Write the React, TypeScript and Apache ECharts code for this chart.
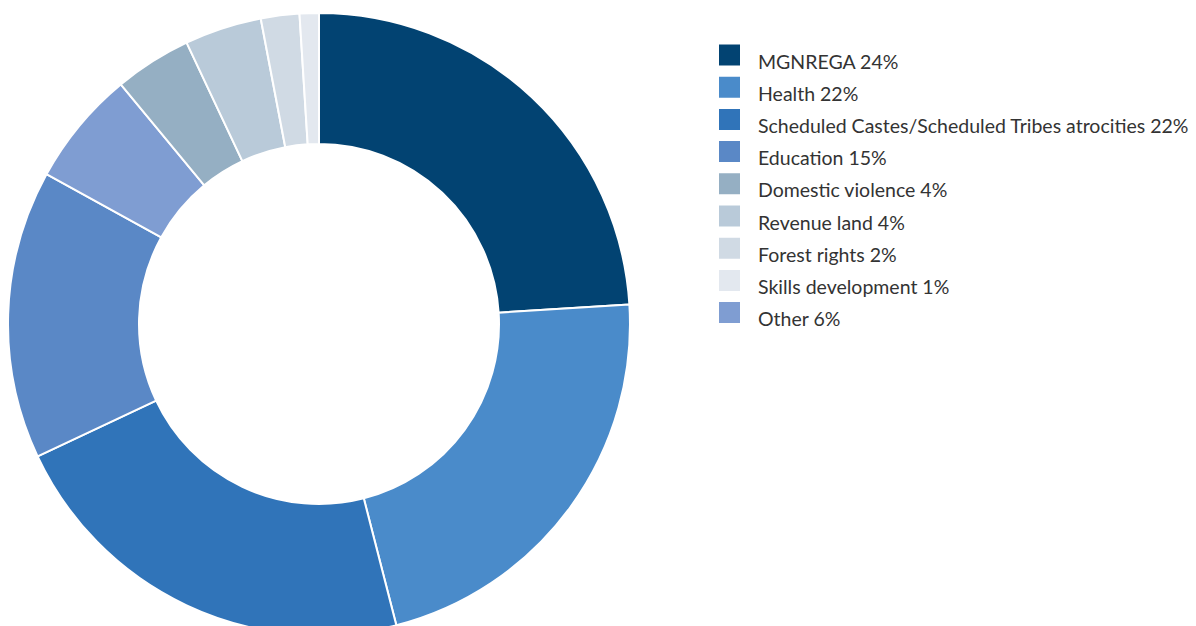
import React, { useEffect, useRef } from "react";
import * as echarts from "echarts";

const sliceNames = [
  "MGNREGA",
  "Health",
  "Scheduled Castes/Scheduled Tribes atrocities",
  "Education",
  "Other",
  "Domestic violence",
  "Revenue land",
  "Forest rights",
  "Skills development",
];
const sliceValues = [24, 22, 22, 15, 6, 4, 4, 2, 1];
const sliceColors = [
  "#024372",
  "#4a8bca",
  "#3074b9",
  "#5a88c6",
  "#7f9dd2",
  "#95afc3",
  "#b9cad9",
  "#d0dae4",
  "#e3e8ef",
];
const legendOrder = [
  "MGNREGA",
  "Health",
  "Scheduled Castes/Scheduled Tribes atrocities",
  "Education",
  "Domestic violence",
  "Revenue land",
  "Forest rights",
  "Skills development",
  "Other",
];

export default function App() {
  const ref = useRef<HTMLDivElement>(null);
  useEffect(() => {
    if (!ref.current) return;
    const chart = echarts.init(ref.current, undefined, { renderer: "svg" });
    const valueOf: Record<string, number> = {};
    sliceNames.forEach((n, i) => (valueOf[n] = sliceValues[i]));
    chart.setOption({
      animation: false,
      backgroundColor: "#ffffff",
      legend: {
        orient: "vertical",
        left: 717,
        top: 42.5,
        padding: 0,
        itemWidth: 23,
        itemHeight: 23,
        itemGap: 3.7,
        icon: "rect",
        selectedMode: false,
        data: legendOrder,
        formatter: (name: string) => `{s|}\n{t|${name} ${valueOf[name]}%}`,
        textStyle: {
          fontFamily: "Lato",
          fontSize: 19.5,
          color: "#333333",
          padding: [0, 0, 0, 12],
          rich: {
            s: { fontSize: 1, lineHeight: 12 },
            t: {
              fontFamily: "Lato",
              fontSize: 19.5,
              lineHeight: 18,
              color: "#333333",
            },
          },
        },
      },
      series: [
        {
          type: "pie",
          center: [319, 324],
          radius: [180, 311],
          startAngle: 90,
          clockwise: true,
          label: { show: false },
          labelLine: { show: false },
          emphasis: { disabled: true },
          itemStyle: { borderColor: "#ffffff", borderWidth: 2 },
          data: sliceNames.map((n, i) => ({
            name: n,
            value: sliceValues[i],
            itemStyle: { color: sliceColors[i] },
          })),
        },
      ],
    });
    return () => chart.dispose();
  }, []);
  return (
    <div
      ref={ref}
      style={{ position: "fixed", left: 0, top: 0, width: 1196, height: 626 }}
    />
  );
}
